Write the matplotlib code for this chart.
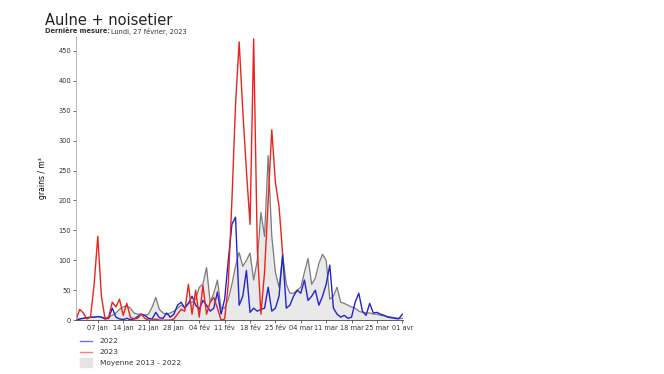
import numpy as np
import matplotlib.pyplot as plt

# daily values from 1 jan (index 0) to 1 apr (index 90), grains / m3
moyenne = [0, 2, 3, 4, 5, 5, 6, 5, 4, 5,
           8, 12, 18, 22, 24, 20, 12, 10, 10, 8,
           10, 22, 38, 18, 12, 10, 12, 15, 20, 25,
           22, 28, 30, 35, 55, 60, 88, 30, 45, 67,
           20, 20, 35, 60, 90, 113, 90, 100, 112, 67,
           100, 180, 140, 275, 140, 80, 55, 108, 60, 45,
           45, 50, 55, 80, 103, 60, 70, 95, 110, 100,
           35, 40, 55, 30, 28, 25, 22, 20, 15, 13,
           12, 12, 10, 10, 8, 7, 6, 5, 4, 3, 3]
y2022 = [0, 2, 3, 4, 5, 5, 6, 5, 2, 3,
         20, 5, 2, 1, 3, 1, 2, 6, 10, 8,
         3, 2, 13, 4, 3, 12, 5, 10, 25, 30,
         20, 28, 40, 25, 18, 33, 25, 15, 20, 47,
         10, 35, 100, 160, 172, 25, 40, 83, 13, 20,
         15, 18, 20, 55, 15, 20, 40, 110, 20, 25,
         40, 50, 45, 67, 33, 40, 50, 25, 40, 60,
         92, 20, 10, 5, 8, 3, 5, 30, 45, 15,
         8, 28, 12, 13, 10, 8, 5, 4, 3, 2, 10]
y2023 = [0, 18, 12, 2, 5, 60, 140, 40, 2, 5,
         30, 22, 35, 8, 28, 5, 2, 3, 10, 3,
         0, 0, 2, 0, 0, 0, 0, 2, 10, 18,
         15, 60, 10, 50, 5, 58, 10, 30, 38, 20,
         0, 2, 60, 200, 360, 465, 350, 250, 160, 470,
         120, 10, 80, 200, 318, 230, 190, 110]

tick_days = [6, 13, 20, 27, 34, 41, 48, 55, 62, 69, 76, 83, 90]
tick_labels = ['07 jan', '14 jan', '21 jan', '28 jan', '04 fév', '11 fév',
               '18 fév', '25 fév', '04 mar', '11 mar', '18 mar', '25 mar', '01 avr']

fig = plt.figure(figsize=(6.64, 3.74), dpi=100)
ax = fig.add_axes([0.1145, 0.144, 0.493, 0.76])

days = np.arange(len(moyenne))
ax.fill_between(days, moyenne, 0, color='#e9e9e9', lw=0)
ax.plot(days, moyenne, color='#7a7a7a', lw=0.9)
ax.plot(np.arange(len(y2022)), y2022, color='#2323d2', lw=1.0)
ax.plot(np.arange(len(y2023)), y2023, color='#e8241c', lw=1.0)

ax.set_xlim(0, 90.3)
ax.set_ylim(0, 475)
ax.set_yticks(np.arange(0, 451, 50))
ax.set_xticks(tick_days)
ax.set_xticklabels(tick_labels)
ax.tick_params(labelsize=4.8, length=2, width=0.5, colors='#333333', pad=1.5)
for s in ['top', 'right']:
    ax.spines[s].set_visible(False)
ax.spines['left'].set_color('#aaaaaa')
ax.spines['bottom'].set_color('#444444')
ax.spines['left'].set_linewidth(0.6)
ax.spines['bottom'].set_linewidth(0.6)
ax.set_ylabel('grains / m³', fontsize=5.5, labelpad=8)

fig.text(0.068, 0.965, 'Aulne + noisetier', fontsize=10.5, va='top', color='#222222')
fig.text(0.068, 0.925, 'Dernière mesure:', fontsize=4.8, va='top', weight='bold', color='#333333')
fig.text(0.167, 0.925, 'Lundi, 27 février, 2023', fontsize=4.8, va='top', color='#333333')

# legend
fig.lines.append(plt.Line2D([0.121, 0.139], [0.088, 0.088], color='#6b6bff', lw=1.0, transform=fig.transFigure))
fig.lines.append(plt.Line2D([0.121, 0.139], [0.059, 0.059], color='#ff7a7a', lw=1.0, transform=fig.transFigure))
fig.patches.append(plt.Rectangle((0.121, 0.018), 0.018, 0.025, color='#e4e4e4', transform=fig.transFigure))
fig.text(0.15, 0.088, '2022', fontsize=5.3, va='center', color='#333333')
fig.text(0.15, 0.059, '2023', fontsize=5.3, va='center', color='#333333')
fig.text(0.15, 0.030, 'Moyenne 2013 - 2022', fontsize=5.3, va='center', color='#333333')

fig.savefig('out.png', dpi=100)
